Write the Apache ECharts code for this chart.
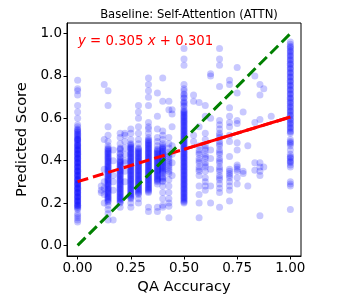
<!DOCTYPE html>
<html><head><meta charset="utf-8">
<script src="https://cdn.jsdelivr.net/npm/echarts@6/dist/echarts.min.js"></script>
<style>html,body{margin:0;padding:0;background:#fff}#c{width:340px;height:300px}</style>
</head><body><div id="c"></div>
<script>
// ---- tick labels ----
const xTicks = [0, 0.25, 0.5, 0.75, 1.0];
const yTicks = [0, 0.2, 0.4, 0.6, 0.8, 1.0];
// ---- fit line coefficients (from the chart annotation) ----
const fitSlope = 0.305;
const fitIntercept = 0.301;
// ---- scatter data: QA accuracy columns and predicted scores ----
const col_0000 = [0.78,0.74,0.73,0.71,0.66,0.63,0.60,0.57,0.56,0.55,0.54,0.53,0.52,0.51,0.50,0.50,0.49,0.48,0.47,0.47,0.46,0.45,0.45,0.44,0.43,0.43,0.42,0.41,0.41,0.40,0.39,0.39,0.38,0.37,0.37,0.36,0.35,0.35,0.34,0.33,0.33,0.32,0.31,0.31,0.30,0.29,0.29,0.28,0.27,0.27,0.26,0.25,0.25,0.24,0.23,0.23,0.22,0.21,0.21,0.20,0.19,0.19,0.18,0.17,0.15,0.14,0.13,0.12,0.11,
  0.175,0.185,0.195,0.205,0.215,0.225,0.235,0.245,0.255,0.265,0.275,0.285,0.295,0.305,0.315,0.325,0.335,0.345,0.355,0.365,0.375,0.385,0.395,0.405,0.415,0.425,0.435,0.445,0.455,0.465,0.475,0.485,0.495,0.505,0.515,0.525,0.535,0.545];
const col_0111 = [0.28,0.26,0.25];
const col_0125 = [0.76,0.50,0.36,0.30,0.27,0.24,0.20];
const col_0143 = [0.73,0.66,0.56,0.52,0.49,0.47,0.46,0.45,0.44,0.43,0.42,0.41,0.40,0.39,0.38,0.37,0.36,0.35,0.34,0.33,0.32,0.31,0.30,0.29,0.28,0.27,0.26,0.25,0.24,0.23,0.22,0.21,0.19,0.17,0.15,0.12,
  0.205,0.215,0.225,0.235,0.245,0.255,0.265,0.275,0.285,0.295,0.305,0.315,0.325,0.335,0.345,0.355,0.365,0.375,0.385,0.395,0.405,0.415,0.425,0.435,0.445,0.455];
const col_0167 = [0.45,0.40,0.33,0.30,0.26,0.12];
const col_0200 = [0.53,0.51,0.48,0.46,0.45,0.43,0.42,0.40,0.39,0.38,0.37,0.36,0.35,0.34,0.33,0.32,0.31,0.30,0.29,0.28,0.27,0.26,0.25,0.24,0.23,0.22,0.21,0.20,0.18,
  0.205,0.215,0.225,0.235,0.245,0.255,0.265,0.275,0.285,0.295,0.305,0.315,0.325,0.335,0.345,0.355,0.365,0.375,0.385,0.395,0.405,0.415,0.435,0.455];
const col_0222 = [0.53,0.52,0.49,0.46,0.43,0.40,0.39,0.35,0.30];
const col_0250 = [0.55,0.53,0.50,0.48,0.47,0.46,0.45,0.44,0.43,0.42,0.41,0.40,0.39,0.38,0.37,0.36,0.35,0.34,0.33,0.32,0.31,0.30,0.29,0.28,0.27,0.26,0.25,0.24,0.23,0.22,0.20,0.18,
  0.225,0.235,0.245,0.255,0.265,0.275,0.285,0.295,0.305,0.315,0.325,0.335,0.345,0.355,0.365,0.375,0.385,0.395,0.405,0.415,0.425,0.435,0.445,0.455,0.465,0.475];
const col_0286 = [0.66,0.63,0.60,0.56,0.53,0.50,0.48,0.46,0.45,0.44,0.43,0.42,0.41,0.40,0.39,0.38,0.37,0.36,0.35,0.34,0.33,0.32,0.31,0.30,0.29,0.28,0.27,0.26,0.25,0.24,0.22,0.20,
  0.245,0.255,0.265,0.275,0.285,0.295,0.305,0.315,0.325,0.335,0.345,0.355,0.365,0.375,0.385,0.395,0.405,0.415,0.425,0.435,0.445,0.455];
const col_0333 = [0.79,0.76,0.73,0.70,0.66,0.58,0.56,0.55,0.53,0.51,0.50,0.49,0.48,0.47,0.46,0.45,0.44,0.43,0.42,0.41,0.40,0.39,0.38,0.37,0.36,0.35,0.34,0.33,0.32,0.31,0.30,0.29,0.28,0.27,0.26,0.25,0.18,0.16,
  0.255,0.265,0.275,0.285,0.295,0.305,0.315,0.325,0.335,0.345,0.355,0.365,0.375,0.385,0.395,0.405,0.415,0.425,0.435,0.445,0.455,0.465,0.475,0.485,0.495];
const col_0375 = [0.72,0.61,0.55,0.51,0.49,0.47,0.45,0.44,0.43,0.42,0.41,0.40,0.39,0.38,0.37,0.36,0.35,0.34,0.33,0.32,0.31,0.30,0.29,0.18,0.16,
  0.305,0.315,0.325,0.335,0.345,0.355,0.365,0.375,0.385,0.395,0.405,0.415,0.425,0.435,0.445,0.455];
const col_0400 = [0.79,0.68,0.54,0.52,0.50,0.48,0.47,0.46,0.45,0.44,0.43,0.42,0.41,0.40,0.39,0.38,0.37,0.36,0.35,0.34,0.32,0.30,0.28,0.25,0.22,0.19,0.18,
  0.305,0.315,0.325,0.345,0.355,0.365,0.375,0.385,0.395,0.405,0.415,0.425,0.435,0.445,0.455,0.465];
const col_0429 = [0.68,0.64,0.51,0.48,0.46,0.44,0.42,0.41,0.40,0.38,0.36,0.34,0.31,0.28,0.25,0.22,0.20,0.185,0.13,0.43,0.39,0.37,0.35];
const col_0444 = [0.64,0.62,0.56,0.47,0.43,0.39,0.33];
const col_0500 = [0.93,0.88,0.85,0.76,0.74,0.73,0.71,0.70,0.68,0.67,0.66,0.64,0.63,0.62,0.61,0.60,0.59,0.58,0.57,0.56,0.55,0.54,0.53,0.52,0.51,0.50,0.49,0.48,0.47,0.46,0.45,0.44,0.43,0.42,0.41,0.40,0.39,0.38,0.37,0.36,0.35,0.34,0.33,0.32,0.31,0.30,0.29,0.28,0.27,0.26,0.25,0.24,0.23,0.22,0.21,0.20,
  0.205,0.215,0.225,0.235,0.245,0.255,0.265,0.275,0.285,0.295,0.305,0.315,0.325,0.335,0.345,0.355,0.365,0.375,0.385,0.395,0.405,0.415,0.425,0.435,0.445,0.455,0.465,0.475,0.485,0.495,0.505,0.515,0.525,0.535,0.545,0.555,0.565,0.575,0.585,0.595,0.605,0.615,0.625,0.635,0.655,0.675,0.695,0.715];
const col_0545 = [0.71,0.68,0.52,0.49];
const col_0571 = [0.675,0.56,0.47,0.45,0.43,0.41,0.39,0.37,0.35,0.33,0.28,0.24,0.20,0.13,0.44,0.40,0.36];
const col_0600 = [0.66,0.61,0.53,0.50,0.47,0.45,0.43,0.41,0.39,0.37,0.35,0.32,0.30,0.28,0.26,0.46,0.42,0.38];
const col_0625 = [0.81,0.80,0.60,0.45,0.41,0.36,0.28,0.20];
const col_0667 = [0.93,0.88,0.85,0.75,0.59,0.57,0.55,0.53,0.51,0.49,0.47,0.45,0.43,0.41,0.39,0.37,0.35,0.33,0.31,0.29,0.27,0.25,0.18,0.52,0.48,0.44,0.40,0.36,0.32];
const col_0714 = [0.78,0.76,0.65,0.61,0.58,0.56,0.52,0.49,0.42,0.36,0.34,0.32,0.30,0.28,0.26,0.21,0.35,0.33];
const col_0750 = [0.84,0.72,0.59,0.575,0.485,0.45,0.38,0.37,0.36,0.35,0.32,0.29];
const col_0778 = [0.63,0.35,0.34];
const col_0800 = [0.47,0.28];
const col_0833 = [0.80,0.58,0.39,0.355];
const col_0857 = [0.76,0.71,0.595,0.39,0.37,0.35,0.33,0.14];
const col_0875 = [0.74,0.37];
const col_0910 = [0.61];
const col_1000 = [0.96,0.95,0.94,0.93,0.92,0.91,0.90,0.89,0.88,0.87,0.86,0.85,0.84,0.83,0.82,0.81,0.80,0.79,0.78,0.77,0.76,0.75,0.74,0.73,0.72,0.71,0.70,0.69,0.68,0.67,0.66,0.65,0.64,0.63,0.62,0.61,0.60,0.59,0.58,0.57,0.56,0.55,0.54,0.53,0.50,0.49,0.48,0.47,0.45,0.43,0.42,0.41,0.40,0.39,0.38,0.37,0.30,0.29,0.28,0.17,
  0.935,0.915,0.895,0.875,0.855,0.835,0.815,0.795,0.775,0.755,0.735,0.715,0.695,0.675,0.655,0.635,0.615,0.595,0.575,0.555,0.535,0.485,0.415,0.395];
const columnX = [0,0.111,0.125,0.143,0.167,0.2,0.222,0.25,0.286,0.333,0.375,0.4,0.429,0.444,0.5,0.545,0.571,0.6,0.625,0.667,0.714,0.75,0.778,0.8,0.833,0.857,0.875,0.91,1.0];
const columnY = [col_0000,col_0111,col_0125,col_0143,col_0167,col_0200,col_0222,col_0250,col_0286,col_0333,col_0375,col_0400,col_0429,col_0444,col_0500,col_0545,col_0571,col_0600,col_0625,col_0667,col_0714,col_0750,col_0778,col_0800,col_0833,col_0857,col_0875,col_0910,col_1000];

const pts = [];
columnX.forEach((x, i) => columnY[i].forEach(y => pts.push([x, y])));
const fitAt = x => fitSlope * x + fitIntercept;

const FONT = 'DejaVu Sans';
const chart = echarts.init(document.getElementById('c'), null, {renderer: 'canvas'});
chart.setOption({
  animation: false,
  backgroundColor: '#fff',
  title: {
    text: 'Baseline: Self-Attention (ATTN)',
    left: 184, top: 4, textAlign: 'center',
    textStyle: {fontFamily: FONT, fontSize: 11.6, fontWeight: 'normal', color: '#000'}
  },
  grid: {left: 67, right: 39, top: 23, bottom: 44, show: true, borderColor: '#000', borderWidth: 1, backgroundColor: 'transparent'},
  xAxis: {
    type: 'value', min: -0.05, max: 1.05,
    name: 'QA Accuracy', nameLocation: 'middle', nameGap: 21,
    nameTextStyle: {fontFamily: FONT, fontSize: 14.7, color: '#000'},
    axisLine: {show: true, onZero: false, lineStyle: {color: '#000', width: 1}},
    axisTick: {show: true, length: 3.5, customValues: xTicks, lineStyle: {color: '#000'}},
    axisLabel: {customValues: xTicks, fontFamily: FONT, fontSize: 13.5, color: '#000', margin: 5,
      formatter: v => v.toFixed(2)},
    splitLine: {show: false}
  },
  yAxis: {
    type: 'value', min: -0.05, max: 1.05,
    name: 'Predicted Score', nameLocation: 'middle', nameGap: 35, nameRotate: 90,
    nameTextStyle: {fontFamily: FONT, fontSize: 14.7, color: '#000'},
    axisLine: {show: true, onZero: false, lineStyle: {color: '#000', width: 1}},
    axisTick: {show: true, length: 3.5, customValues: yTicks, lineStyle: {color: '#000'}},
    axisLabel: {customValues: yTicks, fontFamily: FONT, fontSize: 13.5, color: '#000', margin: 5,
      formatter: v => v.toFixed(1)},
    splitLine: {show: false}
  },
  graphic: [{
    type: 'text', left: 78, top: 35, z: 100,
    style: {
      text: '{i|y} = 0.305 {i|x} + 0.301',
      rich: {i: {fontStyle: 'italic', fontFamily: FONT, fontSize: 13.3, fill: 'red'}},
      fontFamily: FONT, fontSize: 13.3, fill: 'red'
    }
  }],
  series: [
    {type: 'scatter', data: pts, symbolSize: 7, itemStyle: {color: 'rgba(0,0,255,0.27)'}, z: 2},
    {type: 'line', data: [[0, fitAt(0)], [1, fitAt(1)]], showSymbol: false, symbol: 'none',
      lineStyle: {color: 'red', width: 3, type: [11, 5]}, z: 3},
    {type: 'line', data: [[0.5, fitAt(0.5)], [1, fitAt(1)]], showSymbol: false, symbol: 'none',
      lineStyle: {color: 'red', width: 3}, z: 3},
    {type: 'line', data: [[0, 0], [1, 1]], showSymbol: false, symbol: 'none',
      lineStyle: {color: 'green', width: 3, type: [11, 5]}, z: 4}
  ]
});
</script></body></html>
